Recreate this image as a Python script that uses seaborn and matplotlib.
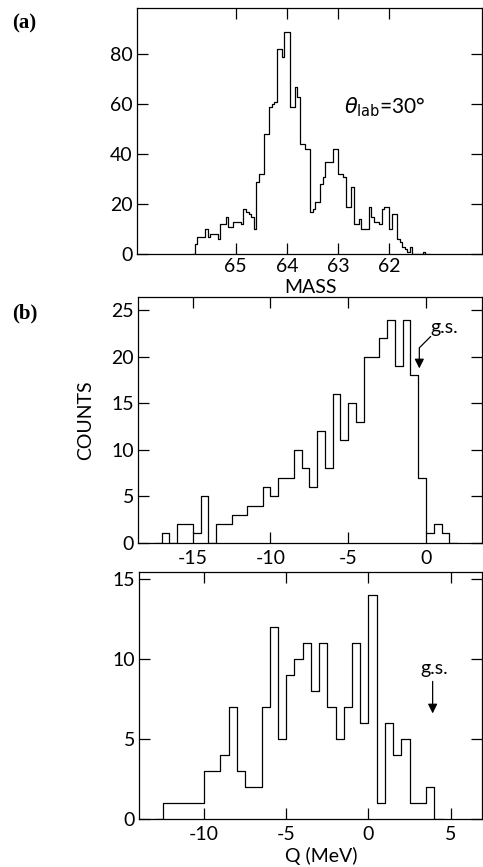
import numpy as np
import pandas as pd
import matplotlib
matplotlib.use("Agg")
import matplotlib.pyplot as plt
import seaborn as sns

# ---------------- data ----------------
# (a) mass spectrum, bins of 0.05 mass units starting at 65.75 going downwards
mass_start = 65.75
mass_bin = 0.05
counts_a = [4, 7, 7, 7, 10, 7, 8, 8, 8, 6,
            12, 12, 15, 11, 11, 13, 13, 13, 12, 18,
            17, 16, 15, 10, 29, 32, 32, 48, 48, 59,
            60, 61, 82, 82, 79, 89, 89, 59, 59, 67,
            63, 44, 44, 42, 42, 17, 18, 21, 21, 28,
            31, 37, 37, 37, 42, 42, 32, 32, 31, 19,
            19, 27, 12, 12, 14, 10, 10, 10, 19, 15,
            13, 13, 12, 18, 19, 19, 10, 16, 16, 6,
            5, 3, 2, 1, 3, 0, 0, 0, 0, 1, 0]
mass_ticks = [65, 64, 63, 62]
counts_a_ticks = [0, 20, 40, 60, 80]

# (b) upper: Q-value spectrum, 0.5 MeV bins starting at -17
q1_start = -17.0
q_bin = 0.5
counts_b1 = [1, 0, 2, 2, 1, 5, 0, 2, 2, 3,
             3, 4, 4, 6, 5, 7, 7, 10, 8, 6,
             12, 8, 16, 11, 15, 13, 20, 20, 22, 24,
             19, 24, 18, 7, 1, 2, 1]
q1_ticks = [-15, -10, -5, 0]
counts_b1_ticks = [0, 5, 10, 15, 20, 25]

# (b) lower: Q-value spectrum, 0.5 MeV bins starting at -12.5
q2_start = -12.5
counts_b2 = [1, 1, 1, 1, 1, 3, 3, 4, 7, 3,
             2, 2, 7, 12, 5, 9, 10, 11, 8, 11,
             7, 5, 7, 11, 6, 14, 1, 6, 4, 5,
             1, 1, 2]
q2_ticks = [-10, -5, 0, 5]
counts_b2_ticks = [0, 5, 10, 15]

# ---------------- style ----------------
sns.set_style("ticks")
plt.rcParams["font.family"] = ["Lato", "DejaVu Sans"]
plt.rcParams["axes.unicode_minus"] = False
plt.rcParams["mathtext.fontset"] = "dejavusans"
for key in ("text.color", "axes.labelcolor", "xtick.color", "ytick.color",
            "axes.edgecolor"):
    plt.rcParams[key] = "black"

W, H = 483, 867
fig = plt.figure(figsize=(W / 100, H / 100), dpi=100)


def axes_px(left, top, right, bottom):
    return fig.add_axes([left / W, 1 - bottom / H, (right - left) / W, (bottom - top) / H])


ax_a = axes_px(137, 8, 482, 254)
ax_b1 = axes_px(138.3, 297.3, 482, 542.7)
ax_b2 = axes_px(139.3, 571.7, 482, 819)


def step_hist(ax, start, width, counts, descending=False):
    c = np.asarray(counts, dtype=float)
    n = len(c)
    # pad one empty bin on each side so the outline starts/ends on the baseline
    c = np.concatenate([[0.0], c, [0.0]])
    if descending:
        centers = start + width / 2 - width * np.arange(-1, n + 1)
    else:
        centers = start - width / 2 + width * np.arange(0, n + 2)
    lo = centers.min() - width / 2
    edges = [float(v) for v in (lo + width * np.arange(n + 3))]
    df = pd.DataFrame({"x": centers, "w": c})
    sns.histplot(data=df, x="x", weights="w", bins=edges, element="step",
                 fill=False, color="black", linewidth=0.9, ax=ax)


step_hist(ax_a, mass_start, mass_bin, counts_a, descending=True)
step_hist(ax_b1, q1_start, q_bin, counts_b1)
step_hist(ax_b2, q2_start, q_bin, counts_b2)

for ax in (ax_a, ax_b1, ax_b2):
    ax.set_xlabel("")
    ax.set_ylabel("")
    for s in ax.spines.values():
        s.set_visible(True)
        s.set_linewidth(0.9)
        s.set_color("black")
    ax.tick_params(direction="in", length=8, width=0.9, top=True, right=True,
                   labelsize=14, pad=3, colors="black")

# panel (a)
ax_a.set_xlim(66.93, 60.19)
ax_a.set_ylim(0, 98.4)
ax_a.set_xticks(mass_ticks)
ax_a.set_xticklabels([str(v) for v in mass_ticks])
ax_a.set_yticks(counts_a_ticks)
ax_a.set_xlabel("MASS", fontsize=14)
ax_a.xaxis.set_label_coords(0.504, -0.136)
ax_a.xaxis.label.set_va("center")
ax_a.text(62.08, 58.8, r"$\theta_{\rm lab}$" + "=30°", fontsize=15,
          ha="center", va="center")

# panel (b) upper
ax_b1.set_xlim(-18.5, 3.6)
ax_b1.set_ylim(0, 26.4)
ax_b1.set_xticks(q1_ticks)
ax_b1.set_xticklabels([str(v) for v in q1_ticks])
ax_b1.set_yticks(counts_b1_ticks)
ax_b1.tick_params(axis="x", pad=5)
ax_b1.set_ylabel("COUNTS", fontsize=14)
ax_b1.yaxis.set_label_coords(-0.152, 0.5)
ax_b1.yaxis.label.set_va("center")
ax_b1.annotate("g.s.", xy=(-0.43, 18.75), xytext=(0.3, 23.1),
               ha="left", va="center", fontsize=14,
               arrowprops=dict(arrowstyle="-|>", color="black", lw=0.9,
                               connectionstyle="angle,angleA=45,angleB=90,rad=0",
                               relpos=(0, 0), patchA=None, shrinkA=0, shrinkB=0,
                               mutation_scale=14))

# panel (b) lower
ax_b2.set_xlim(-13.93, 6.9)
ax_b2.set_ylim(0, 15.46)
ax_b2.set_xticks(q2_ticks)
ax_b2.set_xticklabels([str(v) for v in q2_ticks])
ax_b2.set_yticks(counts_b2_ticks)
ax_b2.tick_params(axis="x", pad=5)
ax_b2.set_xlabel("Q (MeV)", fontsize=14)
ax_b2.xaxis.set_label_coords(0.532, -0.150)
ax_b2.xaxis.label.set_va("center")
ax_b2.text(4.0, 9.4, "g.s.", fontsize=14, ha="center", va="center")
ax_b2.annotate("", xy=(3.9, 6.6), xytext=(3.9, 8.6),
               arrowprops=dict(arrowstyle="-|>", color="black", lw=0.9,
                               shrinkA=0, shrinkB=0, mutation_scale=14))

# panel letters
fig.text(24 / W, 1 - 23 / H, "(a)", fontsize=15, fontweight="bold",
         family="Liberation Serif", ha="center", va="center")
fig.text(25 / W, 1 - 313 / H, "(b)", fontsize=15, fontweight="bold",
         family="Liberation Serif", ha="center", va="center")

fig.savefig("out.png", dpi=100)
